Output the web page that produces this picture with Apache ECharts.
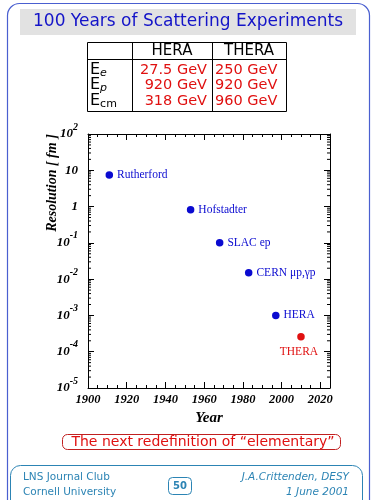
<!DOCTYPE html>
<html><head><meta charset="utf-8">
<script src="https://cdn.jsdelivr.net/npm/echarts@6/dist/echarts.min.js"></script>
<style>html,body{margin:0;padding:0;background:#fff}#c{width:375px;height:500px}</style>
</head><body><div id="c"></div>
<script>
// ---- data ----
var experiments = ['Rutherford', 'Hofstadter', 'SLAC ep', 'CERN \u03bcp,\u03b3p', 'HERA', 'THERA'];
var years = [1911, 1953, 1968, 1983, 1997, 2010];
var resolution = [7.4, 0.82, 0.1, 0.015, 0.001, 0.00026];
var yTickExponents = [2, 1, 0, -1, -2, -3, -4, -5];
var xTicks = [1900, 1920, 1940, 1960, 1980, 2000, 2020];
var tableHeader = ['HERA', 'THERA'];
var tableRowSym = ['e', 'p', 'cm'];
var tableHERA = ['27.5 GeV', '920 GeV', '318 GeV'];
var tableTHERA = ['250 GeV', '920 GeV', '960 GeV'];
var title = '100 Years of Scattering Experiments';
var bottomNote = 'The next redefinition of \u201celementary\u201d';
var footerLeft = ['LNS Journal Club', 'Cornell University'];
var footerRight = ['J.A.Crittenden, DESY', '1 June 2001'];
var pageNo = '50';

// minor tick positions for the log axis (2..9 within each decade)
var minorLogTicks = [];
for (var e = -5; e < 2; e++) { for (var k = 2; k <= 9; k++) { minorLogTicks.push(k * Math.pow(10, e)); } }

var chart = echarts.init(document.getElementById('c'));
var serif = 'Liberation Serif';
var sans = 'DejaVu Sans';
var blue = '#0a0ad0', red = '#e01010';

function expLabel(v) {
  var n = Math.round(Math.log10(v));
  if (n === 0) return '{b|1}';
  if (n === 1) return '{b|10}';
  return '{b|10}{s|' + n + '}';
}

var pointData = years.map(function (y, i) {
  var isThera = experiments[i] === 'THERA';
  return {
    value: [y, resolution[i]], name: experiments[i],
    itemStyle: { color: isThera ? red : blue, opacity: 1 },
    label: isThera ? { position: 'bottom', distance: 6, color: red, offset: [-2, 0] } : { position: 'right', distance: 4, color: blue }
  };
});

// table graphics
var tbl = [];
var tx0 = 87, tx1 = 132, tx2 = 212, tx3 = 286, ty0 = 42, ty1 = 59, ty2 = 111;
var ln = { stroke: '#000', lineWidth: 1 };
tbl.push({ type: 'rect', shape: { x: tx0 + 0.5, y: ty0 + 0.5, width: tx3 - tx0, height: ty2 - ty0 }, style: { fill: 'none', stroke: '#000', lineWidth: 1 } });
tbl.push({ type: 'line', shape: { x1: tx1 + 0.5, y1: ty0, x2: tx1 + 0.5, y2: ty2 }, style: ln });
tbl.push({ type: 'line', shape: { x1: tx2 + 0.5, y1: ty0, x2: tx2 + 0.5, y2: ty2 }, style: ln });
tbl.push({ type: 'line', shape: { x1: tx0, y1: ty1 + 0.5, x2: tx3, y2: ty1 + 0.5 }, style: ln });
tbl.push({ type: 'text', x: (tx1 + tx2) / 2, y: 51, style: { text: tableHeader[0], fill: '#000', font: '15px ' + sans, align: 'center', verticalAlign: 'middle' } });
tbl.push({ type: 'text', x: (tx2 + tx3) / 2, y: 51, style: { text: tableHeader[1], fill: '#000', font: '15px ' + sans, align: 'center', verticalAlign: 'middle' } });
var rowY = [70, 85, 101];
for (var r = 0; r < 3; r++) {
  tbl.push({ type: 'text', x: 90, y: rowY[r], style: { text: '{E|E}{sub|' + tableRowSym[r] + '}', verticalAlign: 'middle', rich: { E: { font: '16px ' + sans, fill: '#000' }, sub: { font: (r === 2 ? '' : 'italic ') + '11px ' + sans, fill: '#000', padding: [7, 0, 0, 0] } } } });
  tbl.push({ type: 'text', x: 207, y: rowY[r], style: { text: tableHERA[r], fill: red, font: '14.5px ' + sans, align: 'right', verticalAlign: 'middle' } });
  tbl.push({ type: 'text', x: 215, y: rowY[r], style: { text: tableTHERA[r], fill: red, font: '14.5px ' + sans, align: 'left', verticalAlign: 'middle' } });
}

var teal = '#2c84b4';
var graphics = [
  { type: 'rect', z: -10, shape: { x: 7.5, y: 3.5, width: 362, height: 520, r: 12 }, style: { fill: 'none', stroke: '#4a5fd0', lineWidth: 1.2 } },
  { type: 'rect', shape: { x: 20, y: 9, width: 336, height: 26 }, style: { fill: '#e2e2e2' } },
  { type: 'text', x: 188, y: 22, style: { text: title, fill: '#1414c8', font: '17px ' + sans, align: 'center', verticalAlign: 'middle' } },
  { type: 'rect', shape: { x: 62.5, y: 434.5, width: 278, height: 15, r: 5 }, style: { fill: 'none', stroke: '#c02020', lineWidth: 1 } },
  { type: 'text', x: 203, y: 442, style: { text: bottomNote, fill: red, font: '14px ' + sans, align: 'center', verticalAlign: 'middle' } },
  { type: 'rect', shape: { x: 10.5, y: 465.5, width: 352, height: 50, r: 10 }, style: { fill: 'none', stroke: teal, lineWidth: 1 } },
  { type: 'text', x: 23, y: 477, style: { text: footerLeft[0], fill: teal, font: '10.5px ' + sans, verticalAlign: 'middle' } },
  { type: 'text', x: 23, y: 492, style: { text: footerLeft[1], fill: teal, font: '10.5px ' + sans, verticalAlign: 'middle' } },
  { type: 'text', x: 349, y: 477, style: { text: footerRight[0], fill: teal, font: 'italic 10.5px ' + sans, align: 'right', verticalAlign: 'middle' } },
  { type: 'text', x: 349, y: 492, style: { text: footerRight[1], fill: teal, font: 'italic 10.5px ' + sans, align: 'right', verticalAlign: 'middle' } },
  { type: 'rect', shape: { x: 168.5, y: 477.5, width: 23, height: 17, r: 4 }, style: { fill: 'none', stroke: teal, lineWidth: 1 } },
  { type: 'text', x: 180, y: 486.5, style: { text: pageNo, fill: teal, font: 'bold 10px ' + sans, align: 'center', verticalAlign: 'middle' } },
  { type: 'text', x: 52, y: 183, rotation: Math.PI / 2, style: { text: 'Resolution [ fm ]', fill: '#000', font: 'bold italic 14px ' + serif, align: 'center', verticalAlign: 'middle' } }
].concat(tbl);

var option = {
  animation: false,
  grid: { left: 88, right: 45, top: 134, bottom: 112, containLabel: false },
  xAxis: [{
    type: 'value', min: 1900, max: 2025, interval: 20,
    axisLine: { lineStyle: { color: '#000', width: 1 } },
    axisTick: { inside: true, length: 6, lineStyle: { color: '#000' } },
    minorTick: { show: true, splitNumber: 4, length: 3, lineStyle: { color: '#000' } },
    splitLine: { show: false },
    axisLabel: { formatter: function (v) { return String(v); }, color: '#000', fontFamily: serif, fontStyle: 'italic', fontWeight: 'bold', fontSize: 12.5, margin: 5, showMaxLabel: false },
    name: 'Year', nameLocation: 'middle', nameGap: 22,
    nameTextStyle: { color: '#000', fontFamily: serif, fontStyle: 'italic', fontWeight: 'bold', fontSize: 15 }
  }, {
    type: 'value', min: 1900, max: 2025, interval: 20, position: 'top',
    axisLine: { show: true, lineStyle: { color: '#000' } },
    axisTick: { inside: true, length: 6, lineStyle: { color: '#000' } },
    minorTick: { show: true, splitNumber: 4, length: 3, lineStyle: { color: '#000' } },
    splitLine: { show: false }, axisLabel: { show: false }
  }],
  yAxis: [{
    type: 'log', min: 1e-5, max: 100, logBase: 10, interval: 1,
    axisLine: { show: true, lineStyle: { color: '#000' } },
    axisTick: { inside: true, length: 6, lineStyle: { color: '#000' } },
    splitLine: { show: false },
    axisLabel: {
      formatter: expLabel, margin: 10,
      rich: {
        b: { fontFamily: serif, fontStyle: 'italic', fontWeight: 'bold', fontSize: 13, color: '#000' },
        s: { fontFamily: serif, fontStyle: 'italic', fontWeight: 'bold', fontSize: 10, color: '#000', verticalAlign: 'bottom', padding: [0, 0, 14, 0] }
      }
    }
  }, {
    type: 'log', min: 1e-5, max: 100, logBase: 10, interval: 1, position: 'right',
    axisLine: { show: true, lineStyle: { color: '#000' } },
    axisTick: { inside: true, length: 6, lineStyle: { color: '#000' } },
    splitLine: { show: false }, axisLabel: { show: false }
  }],
  series: [{
    type: 'scatter', symbolSize: 7.5, data: pointData,
    label: { show: true, formatter: '{b}', fontFamily: serif, fontSize: 11.5 }
  }, {
    type: 'custom', silent: true,
    data: minorLogTicks.map(function (v) { return [1900, v]; }),
    renderItem: function (params, api) {
      var cs = params.coordSys;
      var y = api.coord([1900, api.value(1)])[1];
      return { type: 'group', children: [
        { type: 'line', shape: { x1: cs.x, y1: y, x2: cs.x + 3, y2: y }, style: { stroke: '#000', lineWidth: 1 } },
        { type: 'line', shape: { x1: cs.x + cs.width - 3, y1: y, x2: cs.x + cs.width, y2: y }, style: { stroke: '#000', lineWidth: 1 } }
      ] };
    }
  }],
  graphic: graphics
};
chart.setOption(option);
</script></body></html>
